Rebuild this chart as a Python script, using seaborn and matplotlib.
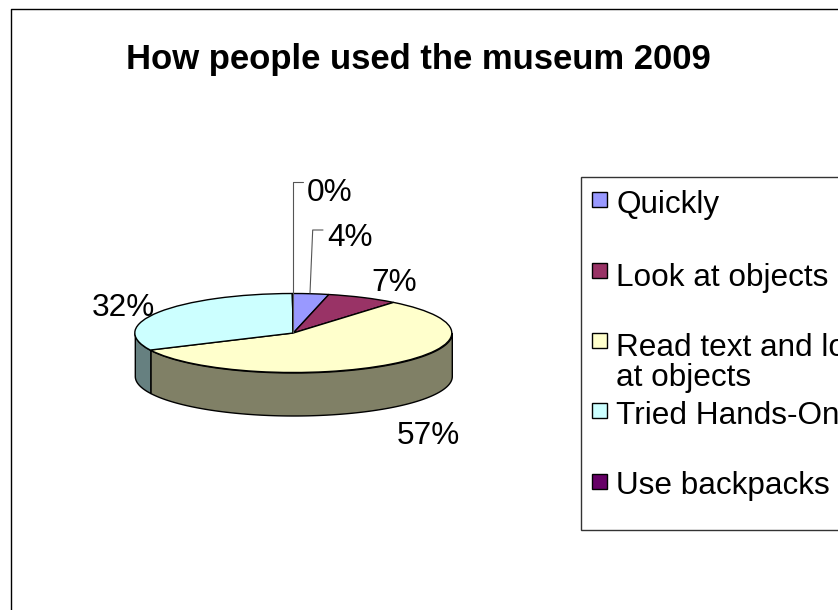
import numpy as np
import matplotlib
matplotlib.use("Agg")
import matplotlib.pyplot as plt
from matplotlib.patches import Rectangle
import seaborn as sns

title = "How people used the museum 2009"
categories = ["Quickly", "Look at objects", "Read text and look\nat objects", "Tried Hands-On", "Use backpacks"]
values = [3.6, 7.3, 57.0, 32.0, 0.1]
colors = ["#9999FF", "#993366", "#FFFFCC", "#CCFFFF", "#660066"]
side_colors = ["#4D4D80", "#4D1A33", "#808066", "#668080", "#330033"]

sns.set_theme(style="white")
plt.rcParams["font.family"] = ["Liberation Sans", "DejaVu Sans"]
W, H = 838, 610
FS = 22.7
fig = plt.figure(figsize=(W / 100, H / 100), dpi=100, facecolor="white")

# pie axes: unit circle squashed into an ellipse
cx, cy, rx, ry, depth_px = 293.3, 333.0, 158.5, 39.5, 43.0
ax = fig.add_axes([0, 0, 1, 1])
depth = depth_px / ry
start = 0.0
for v, sc in zip(values, side_colors):
    end = start + v / sum(values) * 2 * np.pi
    lo, hi = max(start, np.pi / 2), min(end, 3 * np.pi / 2)
    if hi > lo:
        th = np.linspace(lo, hi, 200)
        ax.fill_between(np.sin(th), np.cos(th), np.cos(th) - depth,
                        facecolor=sc, edgecolor="black", linewidth=1.0, zorder=1)
    start = end
wedges, _ = ax.pie(values, colors=colors, startangle=90, counterclock=False,
                   wedgeprops=dict(edgecolor="black", linewidth=1.0, zorder=2))
ax.set_aspect("auto")
ax.set_xlim(-cx / rx, (W - cx) / rx)
ax.set_ylim((cy - H) / ry, cy / ry)
ax.axis("off")

# overlay in pixel coordinates (origin at the top left)
ov = fig.add_axes([0, 0, 1, 1], facecolor="none")
ov.set_xlim(0, W)
ov.set_ylim(H, 0)
ov.axis("off")

ov.plot([838, 10.5, 10.5], [8.5, 8.5, 610], color="black", lw=1.0, clip_on=False)
ov.text(126, 59, title, fontsize=24.9, fontweight="bold", color="black", ha="left", va="center")

# percentage labels and leader lines
label_pos = [(327, 238), (371, 283), (397, 436), (92, 308), (307, 193)]
for v, (x, y) in zip(values, label_pos):
    ov.text(x, y, f"{round(v)}%", fontsize=FS, color="black", ha="left", va="center", zorder=5)
ov.plot([293.3, 293.3, 303], [333, 182, 182], color="#555555", lw=0.8, zorder=4)
ov.plot([310, 312.7, 323], [293, 230, 230], color="#555555", lw=0.8, zorder=4)

# legend
ov.add_patch(Rectangle((581, 177), 300, 353, facecolor="white", edgecolor="#333333", lw=1.0, zorder=3))
row_y = [202, 275, 345, 413, 483]
handle_y = [192, 263, 333, 403, 474]
for c, lab, y, hy in zip(colors, categories, row_y, handle_y):
    ov.add_patch(Rectangle((591.5, hy), 15, 15, facecolor=c, edgecolor="black", lw=1.0, zorder=4))
    ov.text(616, y - 12, lab, fontsize=FS, color="black", ha="left", va="top",
            linespacing=0.98, zorder=5)

fig.savefig("out.png", dpi=100, facecolor="white")
